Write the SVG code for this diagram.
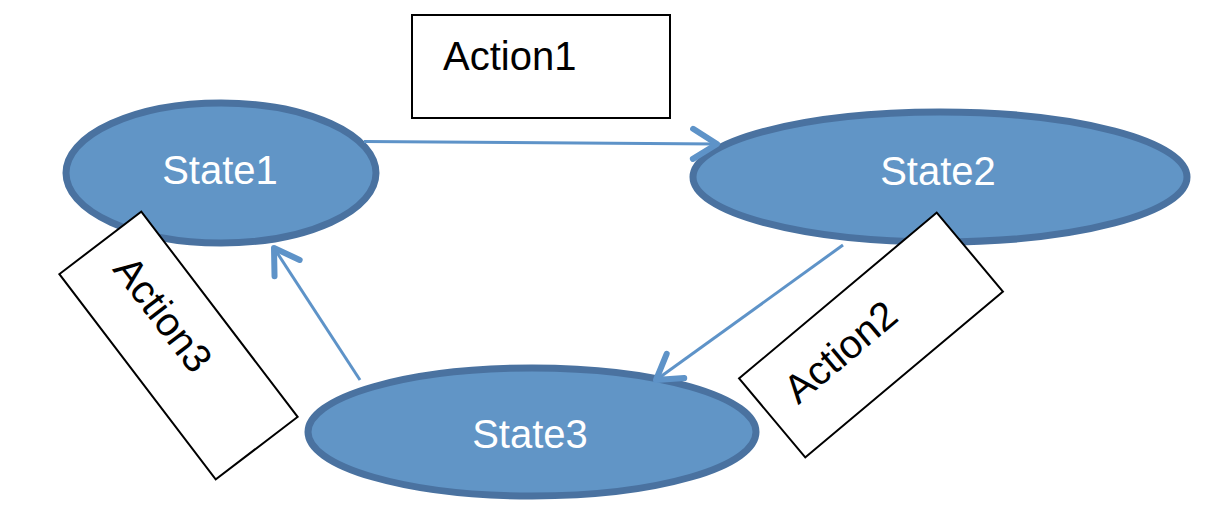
<svg xmlns="http://www.w3.org/2000/svg" width="1214" height="522" viewBox="0 0 1214 522">
<style>
.state{fill:#6195c6;stroke:#4a72a0;stroke-width:7}
.slabel{fill:#ffffff;font-family:"Liberation Sans",Arial,sans-serif;font-size:40px;text-anchor:middle}
.box{fill:#ffffff;stroke:#000000;stroke-width:2}
.alabel{fill:#000000;font-family:"Liberation Sans",Arial,sans-serif;font-size:40px}
.conn{fill:none;stroke:#5e93c8;stroke-width:3}
</style>
<defs>
<marker id="arr" markerUnits="userSpaceOnUse" markerWidth="40" markerHeight="40" viewBox="-30 -20 40 40" refX="0" refY="0" orient="auto" overflow="visible">
<path d="M-24,-15 L0,0 L-24,15" fill="none" stroke="#5e93c8" stroke-width="6" stroke-linecap="round" stroke-linejoin="round"/>
</marker>
</defs>
<g id="state1"><ellipse class="state" cx="221" cy="173" rx="155" ry="70"/><text class="slabel" x="220" y="184">State1</text></g>
<g id="state2"><ellipse class="state" cx="940" cy="177" rx="247" ry="65"/><text class="slabel" x="938" y="185">State2</text></g>
<g id="state3"><ellipse class="state" cx="532" cy="432" rx="224" ry="64"/><text class="slabel" x="530" y="448">State3</text></g>
<g id="connectors">
<path class="conn" d="M364,141.5 L717,144" marker-end="url(#arr)"/>
<path class="conn" d="M843,245 L656,380" marker-end="url(#arr)"/>
<path class="conn" d="M360,380 L274,248" marker-end="url(#arr)"/>
</g>
<g id="action1"><rect class="box" x="412" y="15" width="258" height="103"/><text class="alabel" x="443" y="70">Action1</text></g>
<g id="action3" transform="translate(178.5,345.5) rotate(52.7)"><rect class="box" x="-129" y="-51.5" width="258" height="103"/><text class="alabel" x="-101" y="7">Action3</text></g>
<g id="action2" transform="translate(871,335) rotate(-40)"><rect class="box" x="-129" y="-51.5" width="258" height="103"/><text class="alabel" x="-101" y="7">Action2</text></g>
</svg>
